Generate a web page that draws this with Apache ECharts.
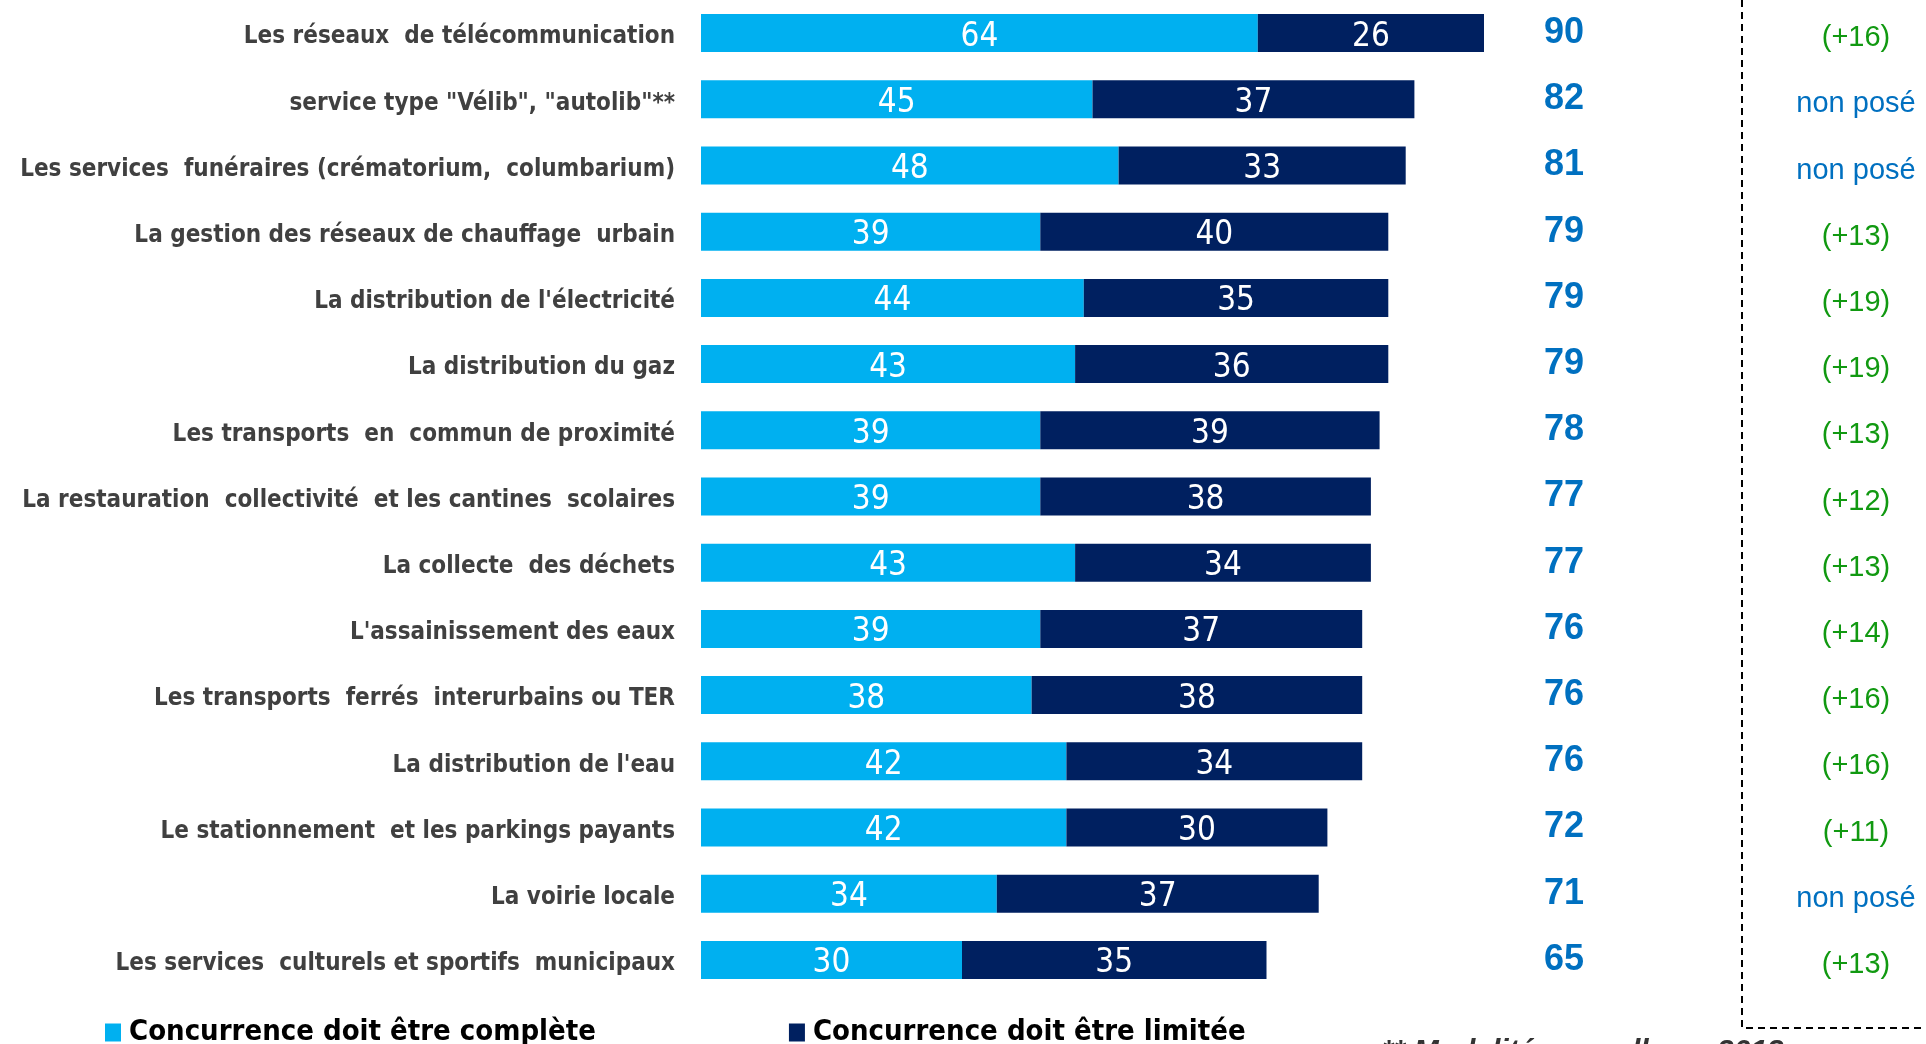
<!DOCTYPE html>
<html>
<head>
<meta charset="utf-8">
<script src="https://cdn.jsdelivr.net/npm/echarts@6/dist/echarts.min.js"></script>
<style>
  html, body { margin: 0; padding: 0; background: #fff; }
  #main { width: 1926px; height: 1044px; }
</style>
</head>
<body>
<div id="main"></div>
<script>
// données
var categories = [
  'Les réseaux  de télécommunication',
  'service type "Vélib", "autolib"**',
  'Les services  funéraires (crématorium,  columbarium)',
  'La gestion des réseaux de chauffage  urbain',
  'La distribution de l\'électricité',
  'La distribution du gaz',
  'Les transports  en  commun de proximité',
  'La restauration  collectivité  et les cantines  scolaires',
  'La collecte  des déchets',
  'L\'assainissement des eaux',
  'Les transports  ferrés  interurbains ou TER',
  'La distribution de l\'eau',
  'Le stationnement  et les parkings payants',
  'La voirie locale',
  'Les services  culturels et sportifs  municipaux'
];
var complete = [64, 45, 48, 39, 44, 43, 39, 39, 43, 39, 38, 42, 42, 34, 30];
var limitee = [26, 37, 33, 40, 35, 36, 39, 38, 34, 37, 38, 34, 30, 37, 35];
var totals = [90, 82, 81, 79, 79, 79, 78, 77, 77, 76, 76, 76, 72, 71, 65];
var evolutions = ['(+16)', 'non posé', 'non posé', '(+13)', '(+19)', '(+19)', '(+13)',
  '(+12)', '(+13)', '(+14)', '(+16)', '(+16)', '(+11)', 'non posé', '(+13)'];

var narrow = "'DejaVu Sans Condensed', 'Liberation Sans Narrow', sans-serif";
var sans = "'Liberation Sans', Arial, sans-serif";

var chart = echarts.init(document.getElementById('main'));

var barLabel = {
  show: true,
  position: 'inside',
  offset: [0, 4],
  color: '#fff',
  fontFamily: narrow,
  fontSize: 33
};

var option = {
  animation: false,
  backgroundColor: '#fff',
  grid: { left: 701, right: 442, top: 0, bottom: 51, outerBoundsMode: 'none', containLabel: false },
  legend: {
    left: 100,
    top: 1013,
    itemWidth: 16,
    itemHeight: 18,
    itemGap: 193,
    icon: 'rect',
    textStyle: {
      fontFamily: narrow,
      fontWeight: 'bold',
      fontSize: 29,
      color: '#000',
      padding: [0, 0, 0, 3]
    },
    data: ['Concurrence doit être complète', 'Concurrence doit être limitée']
  },
  xAxis: { type: 'value', min: 0, max: 90, show: false },
  yAxis: [
    {
      type: 'category',
      data: categories,
      inverse: true,
      axisLine: { show: false },
      axisTick: { show: false },
      axisLabel: {
        margin: 26,
        formatter: function (v) { return '{c|' + v + '}'; },
        rich: {
          c: {
            padding: [8, 0, 0, 0],
            fontFamily: narrow,
            fontWeight: 'bold',
            fontSize: 24,
            color: '#404040'
          }
        }
      }
    },
    {
      type: 'category',
      data: totals,
      inverse: true,
      position: 'right',
      axisLine: { show: false },
      axisTick: { show: false },
      axisLabel: {
        margin: 60,
        fontFamily: sans,
        fontWeight: 'bold',
        fontSize: 36,
        color: '#0070C0'
      }
    },
    {
      type: 'category',
      data: evolutions,
      inverse: true,
      position: 'right',
      axisLine: { show: false },
      axisTick: { show: false },
      axisLabel: {
        margin: 372,
        align: 'center',
        padding: [10, 0, 0, 0],
        fontFamily: sans,
        fontSize: 29,
        formatter: function (v) {
          return v === 'non posé' ? '{b|' + v + '}' : '{g|' + v + '}';
        },
        rich: {
          g: { color: '#119911', fontFamily: sans, fontSize: 29 },
          b: { color: '#0070C0', fontFamily: sans, fontSize: 29 }
        }
      }
    }
  ],
  series: [
    {
      name: 'Concurrence doit être complète',
      type: 'bar',
      stack: 'total',
      barWidth: 38,
      data: complete,
      itemStyle: { color: '#00B0F0' },
      label: barLabel
    },
    {
      name: 'Concurrence doit être limitée',
      type: 'bar',
      stack: 'total',
      barWidth: 38,
      data: limitee,
      itemStyle: { color: '#002060' },
      label: barLabel
    }
  ],
  graphic: [
    {
      type: 'polyline',
      shape: { points: [[1742, 0], [1742, 1028], [1926, 1028]] },
      style: { stroke: '#000', lineWidth: 2, lineDash: [7, 5], fill: null }
    },
    {
      type: 'text',
      left: 1382,
      top: 1037,
      style: {
        text: '** Modalité nouvelle en 2013',
        fontFamily: sans,
        fontWeight: 'bold',
        fontStyle: 'italic',
        fontSize: 30,
        fill: '#333'
      }
    }
  ]
};

chart.setOption(option);
</script>
</body>
</html>
